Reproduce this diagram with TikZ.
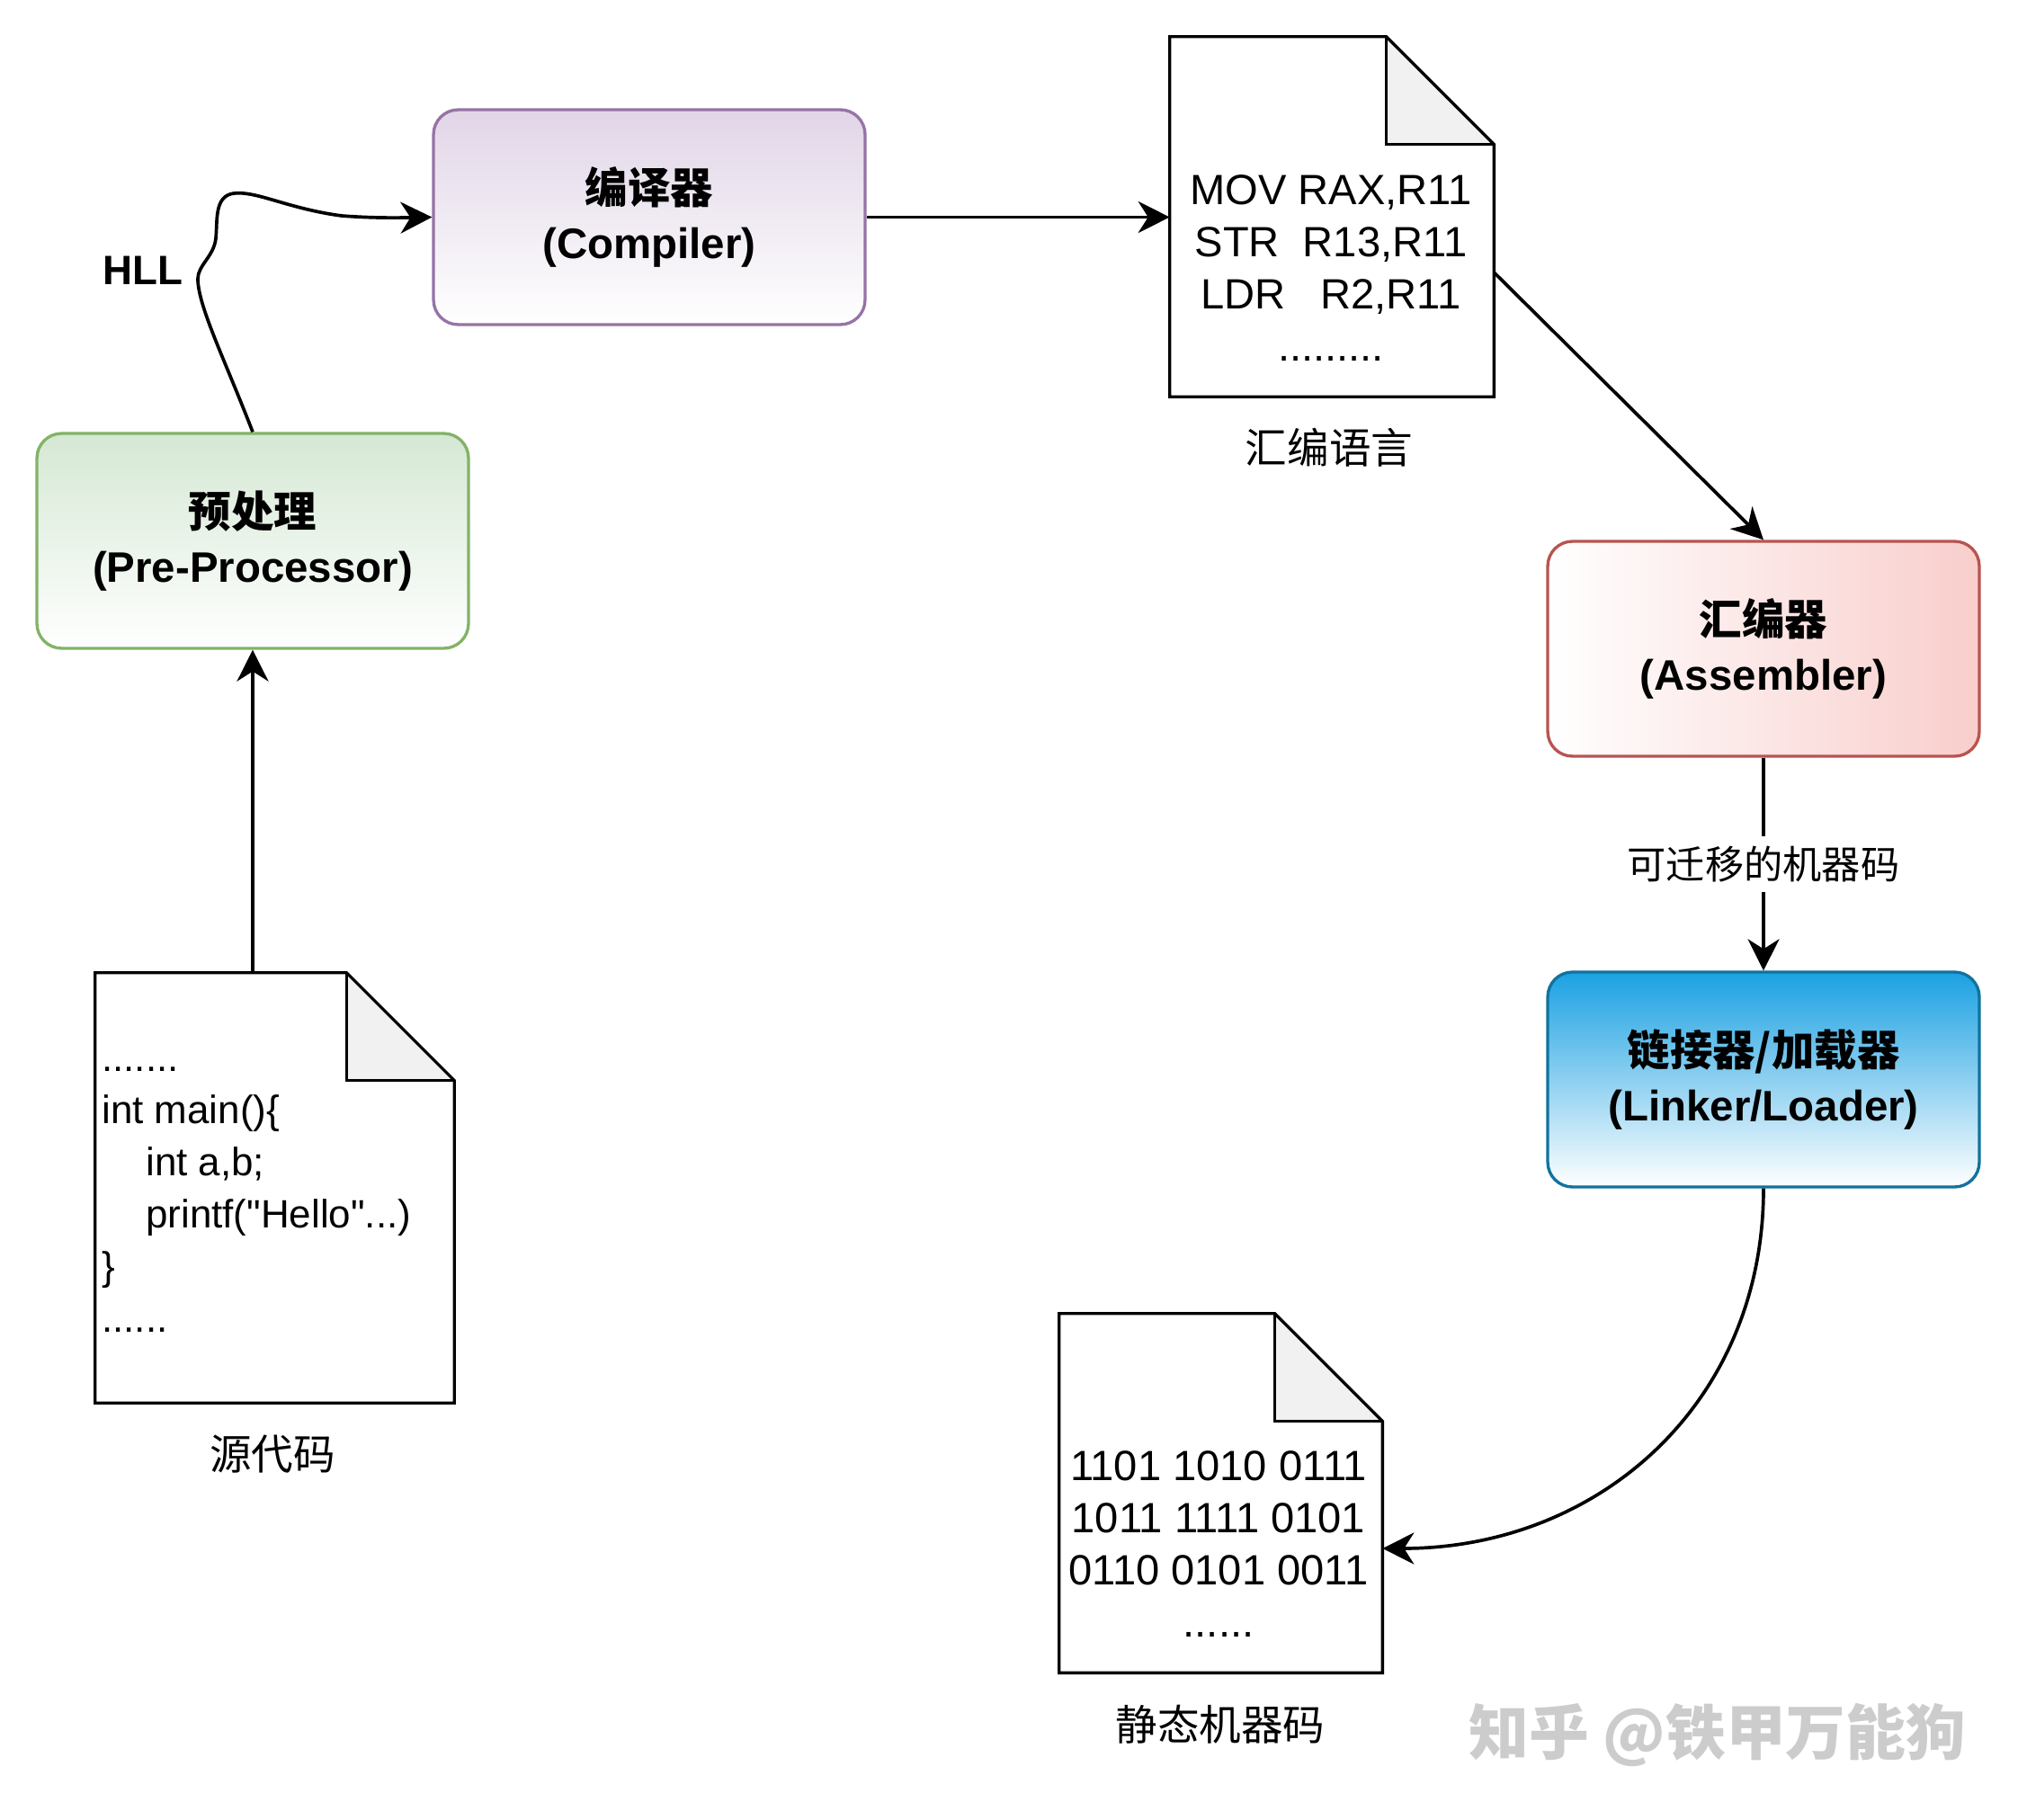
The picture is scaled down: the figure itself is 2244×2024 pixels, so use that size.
\documentclass[tikz,border=0pt]{standalone}
\usepackage{fontspec}
\setmainfont{Liberation Sans}[Ligatures=TeXOff]
\newfontfamily\cjk{Noto Sans CJK SC}
\usepackage{tikz}
\usetikzlibrary{arrows.meta,calc,positioning}
\definecolor{purpleline}{HTML}{9673A6}
\definecolor{purplefill}{HTML}{E1D5E7}
\definecolor{greenline}{HTML}{82B366}
\definecolor{greenfill}{HTML}{D5E8D4}
\definecolor{redline}{HTML}{B85450}
\definecolor{redfill}{HTML}{F8CECC}
\definecolor{blueline}{HTML}{10739E}
\definecolor{bluefill}{HTML}{1BA1E2}
\definecolor{foldgray}{HTML}{F1F1F1}
\newcommand{\zh}[1]{{\cjk #1}}

\begin{document}
\begin{tikzpicture}[x=0.02cm, y=-0.02cm,
    stage/.style={rounded corners=0.55cm, line width=1.9pt, minimum width=9.6cm, minimum height=4.78cm,
        align=center, font=\fontsize{27}{35}\selectfont\bfseries},
    docpage/.style={inner sep=0pt},
    code/.style={inner sep=0pt, font=\fontsize{26.8}{33}\selectfont},
    caption/.style={inner sep=0pt, font=\fontsize{26.5}{32}\selectfont\cjk},
    flow/.style={line width=2.1pt, -{Stealth[length=0.7cm, width=0.7cm, inset=0.22cm]}}]
        \fill[white] (0,0) rectangle (2244,2024);
        \useasboundingbox (0,0) rectangle (2244,2024);
        %%%%%%%%%%%%%%% Stages
        \node[stage, draw=greenline, top color=greenfill, bottom color=white] (pre) at (281,601.5) {\zh{预处理}\\(Pre-Processor)};
        \node[stage, draw=purpleline, top color=purplefill, bottom color=white] (compiler) at (722,241.5) {\zh{编译器}\\(Compiler)};
        \node[stage, draw=redline, left color=white, right color=redfill] (assembler) at (1961,721.5) {\zh{汇编器}\\(Assembler)};
        \node[stage, draw=blueline, top color=bluefill, bottom color=white] (linker) at (1961,1200.5) {\zh{链接器/加载器}\\(Linker/Loader)};
        %%%%%%%%%%%%%%% Documents
        \node[docpage, minimum width=7.98cm, minimum height=9.56cm] (src) at (305.5,1321) {};
        \node[docpage, minimum width=7.2cm, minimum height=8cm] (asm) at (1481,241) {};
        \node[docpage, minimum width=7.18cm, minimum height=7.98cm] (bin) at (1357.5,1660.5) {};
        \foreach \d in {src,asm,bin} {
            \fill[foldgray] ([xshift=-2.4cm]\d.north east) -- ([yshift=-2.4cm]\d.north east) -- ([xshift=-2.4cm,yshift=-2.4cm]\d.north east) -- cycle;
            \draw[line width=1.9pt] (\d.north west) -- ([xshift=-2.4cm]\d.north east) -- ([yshift=-2.4cm]\d.north east)
                -- (\d.south east) -- (\d.south west) -- cycle;
            \draw[line width=1.9pt] ([xshift=-2.4cm]\d.north east) -- ([xshift=-2.4cm,yshift=-2.4cm]\d.north east) -- ([yshift=-2.4cm]\d.north east);
        }
        %%%%%%%%%%%%%%% Text in the documents
        \node[code, anchor=west, align=left, font=\fontsize{25}{33}\selectfont] (srctxt) at (113,1334)
            {.......\\int main()\{\\\hspace*{0.98cm}int a,b;\\\hspace*{0.98cm}printf("Hello"...)\\\}\\......};
        \node[code, align=center] (asmtxt) at (1480,298.5) {MOV RAX,R11\\STR\ \ R13,R11\\LDR\ \ \ R2,R11\\.........};
        \node[code, align=center] (bintxt) at (1355,1717.5) {1101 1010 0111\\1011 1111 0101\\0110 0101 0011\\......};
        %%%%%%%%%%%%%%% Captions
        \node[caption] (srccap) at (303,1617) {源代码};
        \node[caption] (asmcap) at (1478,498) {汇编语言};
        \node[caption] (bincap) at (1357,1918) {静态机器码};
        %%%%%%%%%%%%%%% Connectors
        \draw[flow] (pre.south |- src.north) -- (pre.south);
        \draw[flow] (pre.north) .. controls (250,400) and (220,340) .. (220,310)
            .. controls (220,295) and (238,285) .. (240,265)
            .. controls (242,245) and (238,218) .. (260,215)
            .. controls (285,212) and (320,232) .. (380,240)
            .. controls (420,243) and (450,242) .. (compiler.west);
        \node[inner sep=0pt, font=\fontsize{26}{30}\selectfont\bfseries] (hll) at (159,301) {HLL};
        \draw[flow] (compiler.east) -- (compiler.east -| asm.west);
        \draw[flow] ([yshift=-1.24cm]asm.east) -- (assembler.north);
        \draw[flow] (assembler.south) -- node[fill=white, inner xsep=2pt, inner ysep=6pt, font=\fontsize{24.6}{28}\selectfont\cjk] (reloc) {可迁移的机器码} (linker.north);
        \draw[flow] (linker.south) to[out=-90, in=0, looseness=1.05] ([yshift=-1.23cm]bin.east);
        %%%%%%%%%%%%%%% Watermark
        \node[text=gray!40, font=\fontsize{38}{42}\selectfont\cjk\bfseries] (mark) at (1910,1929) {知乎 @铁甲万能狗};
\end{tikzpicture}
\end{document}
